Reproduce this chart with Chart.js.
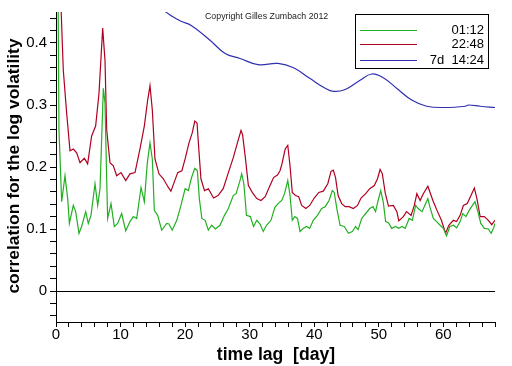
<!DOCTYPE html>
<html>
<head>
<meta charset="utf-8">
<script src="https://cdn.jsdelivr.net/npm/chart.js@4/dist/chart.umd.min.js"></script>
<style>
  html, body { margin: 0; padding: 0; background: #fff; }
  #wrap { width: 512px; height: 366px; position: relative; }
</style>
</head>
<body>
<div id="wrap"><canvas id="corrChart" width="512" height="366"></canvas></div>
<script>
// series labels (legend)
const seriesLabels = ['01:12', '22:48', '7d  14:24'];

// green series: lag [day] and correlation
const greenLag = [0, 0.46, 0.88, 1.39, 1.81, 2.07, 2.68, 3.05, 3.56, 3.97, 4.6, 5.0, 5.42, 6.04, 6.46, 6.82, 7.33, 7.59, 7.85, 8.0,
  8.52, 9.03, 9.55, 10.17, 10.8, 11.46, 11.98, 12.5, 13.17, 13.68, 14.15, 14.56, 14.92, 15.23, 15.75, 16.37, 17.15, 17.5, 18.0, 18.7,
  19.36, 20.0, 20.5, 21.0, 21.5, 21.9, 22.2, 22.6, 23.1, 23.6, 24.1, 24.7, 25.4, 26.1, 26.7, 27.46, 27.9, 28.5, 28.76, 29.1,
  29.5, 30.1, 30.6, 31.1, 31.6, 32.1, 32.6, 33.3, 33.9, 34.4, 34.96, 35.4, 35.9, 36.25, 36.6, 37.0, 37.4, 37.8, 38.3, 38.8,
  39.3, 39.85, 40.5, 41.15, 41.7, 42.3, 42.8, 43.1, 43.5, 44.0, 44.65, 45.3, 45.9, 46.4, 46.8, 47.35, 47.97, 48.6, 49.1, 49.5,
  49.9, 50.3, 50.7, 51.06, 51.5, 52.0, 52.6, 53.1, 53.6, 54.1, 54.7, 55.2, 55.7, 56.1, 56.7, 57.26, 57.6, 57.9, 58.45, 58.96,
  59.5, 60.0, 60.5, 61.0, 61.55, 62.05, 62.6, 63.0, 63.5, 64.0, 64.5, 64.9, 65.35, 65.8, 66.35, 66.97, 67.4, 67.8, 68.0];
const greenCorr = [1.0, 0.26, 0.144, 0.186, 0.149, 0.109, 0.138, 0.128, 0.093, 0.104, 0.128, 0.109, 0.122, 0.173, 0.138, 0.165, 0.327, 0.303, 0.181, 0.117,
  0.141, 0.104, 0.109, 0.125, 0.097, 0.112, 0.120, 0.117, 0.167, 0.144, 0.207, 0.239, 0.213, 0.130, 0.122, 0.098, 0.109, 0.108, 0.098, 0.114,
  0.138, 0.165, 0.162, 0.183, 0.198, 0.194, 0.149, 0.117, 0.114, 0.098, 0.106, 0.100, 0.106, 0.122, 0.133, 0.154, 0.157, 0.178, 0.189, 0.173,
  0.122, 0.120, 0.104, 0.114, 0.108, 0.096, 0.106, 0.114, 0.135, 0.141, 0.146, 0.157, 0.178, 0.154, 0.114, 0.120, 0.117, 0.096, 0.101, 0.104,
  0.101, 0.114, 0.122, 0.133, 0.136, 0.146, 0.162, 0.159, 0.133, 0.106, 0.104, 0.093, 0.096, 0.104, 0.099, 0.117, 0.125, 0.133, 0.136, 0.128,
  0.146, 0.162, 0.143, 0.112, 0.110, 0.101, 0.104, 0.101, 0.104, 0.101, 0.117, 0.114, 0.138, 0.133, 0.128, 0.141, 0.149, 0.136, 0.117, 0.112,
  0.106, 0.101, 0.089, 0.104, 0.106, 0.102, 0.112, 0.125, 0.120, 0.130, 0.138, 0.144, 0.128, 0.109, 0.101, 0.100, 0.093, 0.102, 0.109];

// red series
const redLag = [0, 0.77, 1.13, 1.65, 2.17, 2.68, 3.2, 3.72, 4.39, 4.9, 5.52, 6.14, 6.66, 7.23, 7.59, 7.85, 8.36, 8.88, 9.4, 10.07,
  10.8, 11.46, 12.24, 13.0, 13.68, 14.2, 14.56, 14.92, 15.33, 15.95, 16.62, 17.4, 17.8, 18.4, 18.85, 19.5, 20.0, 20.6, 21.1, 21.5,
  21.85, 22.05, 22.45, 23.0, 23.6, 24.4, 25.1, 25.9, 26.7, 27.46, 28.1, 28.66, 28.9, 29.3, 29.8, 30.4, 31.1, 31.75, 32.4, 33.15,
  33.7, 34.3, 34.7, 35.0, 35.5, 35.9, 36.25, 36.6, 37.1, 37.6, 38.05, 38.7, 39.3, 40.0, 40.7, 41.4, 42.1, 42.6, 42.95, 43.3,
  43.7, 44.25, 44.8, 45.4, 46.05, 46.7, 47.25, 47.97, 48.6, 49.3, 49.8, 50.2, 50.55, 51.0, 51.5, 52.25, 52.8, 53.1, 53.8, 54.3,
  55.0, 55.5, 55.9, 56.4, 56.9, 57.6, 57.9, 58.45, 59.1, 59.7, 60.35, 60.85, 61.55, 62.05, 62.6, 63.1, 63.7, 64.4, 64.8, 65.2,
  65.7, 66.35, 66.97, 67.5, 68.0];
const redCorr = [1.0, 0.46, 0.356, 0.287, 0.226, 0.229, 0.223, 0.207, 0.214, 0.205, 0.250, 0.266, 0.319, 0.424, 0.372, 0.260, 0.207, 0.202, 0.186, 0.191,
  0.178, 0.189, 0.191, 0.229, 0.266, 0.308, 0.331, 0.292, 0.213, 0.189, 0.181, 0.167, 0.161, 0.178, 0.191, 0.194, 0.213, 0.239, 0.255, 0.274,
  0.271, 0.239, 0.181, 0.162, 0.165, 0.150, 0.154, 0.165, 0.191, 0.215, 0.239, 0.259, 0.252, 0.218, 0.170, 0.159, 0.149, 0.146, 0.152, 0.170,
  0.183, 0.187, 0.194, 0.205, 0.229, 0.235, 0.202, 0.159, 0.154, 0.152, 0.138, 0.133, 0.138, 0.150, 0.159, 0.161, 0.173, 0.193, 0.195, 0.183,
  0.154, 0.141, 0.136, 0.136, 0.133, 0.138, 0.150, 0.157, 0.165, 0.170, 0.181, 0.196, 0.189, 0.158, 0.137, 0.138, 0.128, 0.113, 0.120, 0.128,
  0.122, 0.138, 0.157, 0.146, 0.157, 0.169, 0.160, 0.144, 0.128, 0.114, 0.093, 0.106, 0.114, 0.112, 0.122, 0.138, 0.141, 0.157, 0.166, 0.149,
  0.120, 0.120, 0.114, 0.107, 0.114];

// blue series (smooth, starts above the top of the plot)
const blueLag = [12, 16.9, 19.2, 21.0, 23.9, 26.2, 28.5, 31.3, 34.4, 36.8, 39.3, 41.7, 43.0, 44.8, 47.1, 48.9, 50.7, 53.0, 55.1, 57.4,
  60.3, 63.4, 63.9, 65.7, 68.0];
const blueCorr = [0.50, 0.451, 0.436, 0.428, 0.404, 0.383, 0.375, 0.365, 0.367, 0.360, 0.343, 0.327, 0.322, 0.325, 0.340, 0.350, 0.344, 0.325, 0.308, 0.298,
  0.296, 0.298, 0.300, 0.298, 0.296];

// tick positions (minor ticks everywhere, labels on the majors)
const xTickValues = [0, 2, 4, 6, 8, 10, 12, 14, 16, 18, 20, 22, 24, 26, 28, 30, 32, 34, 36, 38, 40, 42, 44, 46, 48, 50, 52, 54, 56, 58, 60, 62, 64, 66, 68];
const xTickLabels = ['0', '10', '20', '30', '40', '50', '60'];
const yTickValues = [-0.04, -0.02, 0, 0.02, 0.04, 0.06, 0.08, 0.1, 0.12, 0.14, 0.16, 0.18, 0.2, 0.22, 0.24, 0.26, 0.28, 0.3, 0.32, 0.34, 0.36, 0.38, 0.4, 0.42, 0.44];
const yTickLabels = ['0', '0.1', '0.2', '0.3', '0.4'];

const colors = ['#22b022', '#b00020', '#3030b0'];
const FONT = '"Liberation Sans", Arial, sans-serif';

function toPoints(xs, ys) {
    return xs.map((x, i) => ({ x: x, y: ys[i] }));
}

// pick a font size so that the text spans roughly the given width
function fitFont(ctx, text, width, weight) {
    ctx.font = weight + ' 20px ' + FONT;
    const size = 20 * width / ctx.measureText(text).width;
    ctx.font = weight + ' ' + size.toFixed(1) + 'px ' + FONT;
}

// legend box, copyright and axis titles drawn on top of the chart
const decorations = {
    id: 'decorations',
    afterDraw(chart) {
        const ctx = chart.ctx;
        ctx.save();

        // copyright
        ctx.fillStyle = '#222';
        ctx.textBaseline = 'middle';
        ctx.textAlign = 'left';
        fitFont(ctx, 'Copyright Gilles Zumbach 2012', 123, 'normal');
        ctx.fillText('Copyright Gilles Zumbach 2012', 205, 16.5);

        // legend
        ctx.fillStyle = '#fff';
        ctx.fillRect(355.5, 14.5, 133, 54);
        ctx.strokeStyle = '#000';
        ctx.lineWidth = 1;
        ctx.strokeRect(355.5, 14.5, 133, 54);
        const rows = [30, 44, 60];
        ctx.font = '13px ' + FONT;
        ctx.textAlign = 'right';
        chart.data.datasets.forEach((ds, i) => {
            ctx.strokeStyle = ds.borderColor;
            ctx.beginPath();
            ctx.moveTo(360, rows[i] + 0.5);
            ctx.lineTo(417, rows[i] + 0.5);
            ctx.stroke();
            ctx.fillStyle = '#000';
            ctx.fillText(ds.label, 484, rows[i]);
        });

        // axis titles
        ctx.fillStyle = '#000';
        ctx.textAlign = 'center';
        fitFont(ctx, 'time lag  [day]', 118, 'bold');
        ctx.fillText('time lag  [day]', 276, 355);
        ctx.translate(14, 166);
        ctx.rotate(-Math.PI / 2);
        fitFont(ctx, 'correlation for the log volatility', 255, 'bold');
        ctx.fillText('correlation for the log volatility', 0, 0);
        ctx.restore();
    }
};

document.addEventListener('DOMContentLoaded', function() {
    const ctx = document.getElementById('corrChart').getContext('2d');
    const series = [[greenLag, greenCorr], [redLag, redCorr], [blueLag, blueCorr]];

    new Chart(ctx, {
        type: 'line',
        data: {
            datasets: series.map((s, i) => ({
                label: seriesLabels[i],
                data: toPoints(s[0], s[1]),
                borderColor: colors[i],
                borderWidth: 1.2,
                pointRadius: 0,
                fill: false,
                tension: i === 2 ? 0.4 : 0
            }))
        },
        options: {
            responsive: false,
            animation: false,
            layout: { padding: { left: 0, right: 17, top: 8, bottom: 0 } },
            plugins: {
                legend: { display: false },
                tooltip: { enabled: false }
            },
            scales: {
                x: {
                    type: 'linear',
                    min: 0,
                    max: 68,
                    afterBuildTicks: scale => { scale.ticks = xTickValues.map(v => ({ value: v })); },
                    afterFit: scale => { scale.height = 44; },
                    border: { color: '#000', width: 1 },
                    grid: { drawOnChartArea: false, tickLength: 5, tickColor: '#000' },
                    ticks: {
                        autoSkip: false,
                        maxRotation: 0,
                        padding: -1,
                        color: '#000',
                        font: { family: FONT, size: 15 },
                        callback: v => xTickLabels.includes(String(v)) ? String(v) : ''
                    }
                },
                y: {
                    min: -0.05,
                    max: 0.45,
                    afterBuildTicks: scale => { scale.ticks = yTickValues.map(v => ({ value: v })); },
                    afterFit: scale => { scale.width = 56; },
                    border: { color: '#000', width: 1 },
                    grid: {
                        tickLength: 6,
                        tickColor: '#000',
                        color: c => (c.tick && Math.abs(c.tick.value) < 1e-9) ? '#000' : 'rgba(0,0,0,0)'
                    },
                    ticks: {
                        autoSkip: false,
                        padding: 3,
                        color: '#000',
                        font: { family: FONT, size: 15 },
                        callback: v => {
                            const s = String(Math.round(v * 100) / 100);
                            return yTickLabels.includes(s) ? s : '';
                        }
                    }
                }
            }
        },
        plugins: [decorations]
    });
});
</script>
</body>
</html>
